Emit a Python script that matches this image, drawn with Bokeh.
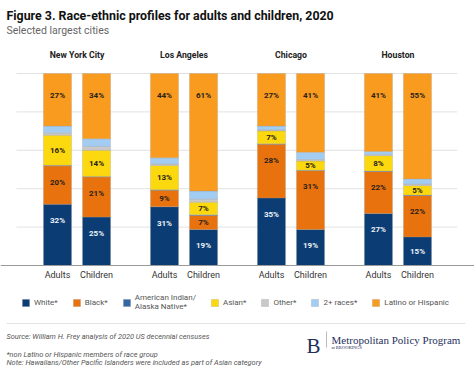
from bokeh.plotting import figure
from bokeh.models import (ColumnDataSource, FactorRange, Range1d, Legend, LegendItem,
                          Label, BoxAnnotation)
from bokeh.core.properties import value
from bokeh.embed import file_html
from bokeh.resources import INLINE

cities = ["New York City", "Los Angeles", "Chicago", "Houston"]
groups = ["Adults", "Children"]
series = ["White*", "Black*", "American Indian/\nAlaska Native*", "Asian*",
          "Other*", "2+ races*", "Latino or Hispanic"]
keys = ["white", "black", "amind", "asian", "other", "two", "latino"]
colors = ["#0B3C73", "#E8730E", "#3567A3", "#FCD90F", "#C9C9C9", "#A3CCF2", "#F99B1F"]
grid_ticks = [20, 40, 60, 80, 100]

# bars: NYC A, NYC C, LA A, LA C, CHI A, CHI C, HOU A, HOU C  (percent)
white = [31.9, 25.2, 30.6, 18.8, 35.2, 18.8, 27.1, 14.9]
black = [20.0, 20.9, 8.6, 7.3, 28.0, 30.6, 21.9, 21.6]
amind = [0.3, 0.3, 0.3, 0.3, 0.2, 0.2, 0.2, 0.2]
asian = [15.6, 13.6, 12.6, 6.6, 6.7, 4.8, 8.0, 4.9]
other = [1.3, 2.0, 0.8, 1.5, 0.5, 0.8, 0.6, 0.8]
two = [3.5, 4.0, 3.2, 4.3, 2.0, 3.8, 1.6, 2.7]
latino = [27.4, 34.0, 43.9, 61.2, 27.4, 41.0, 40.6, 54.9]

factors = [(c, g) for c in cities for g in groups]
data = dict(x=factors, white=white, black=black, amind=amind, asian=asian,
            other=other, two=two, latino=latino)
src = ColumnDataSource(data)

FONT = "Roboto"
W, H = 474, 374
GP = 0.74
span = len(factors) + GP * (len(cities) - 1)
p = figure(width=W, height=H, output_backend="svg", toolbar_location=None,
           x_range=FactorRange(*factors, group_padding=GP, factor_padding=0,
                               range_padding=0.96, range_padding_units="absolute"),
           y_range=Range1d(-56.77, 138.02), y_axis_location=None)
p.min_border = 0
p.min_border_left = p.min_border_right = p.min_border_top = p.min_border_bottom = 0
p.outline_line_color = None
p.background_fill_color = "white"
p.border_fill_color = "white"
p.grid.visible = False

ax = p.xaxis[0]
ax.fixed_location = 0
ax.axis_line_color = "#9A9A9A"
ax.major_tick_line_color = None
ax.minor_tick_line_color = None
ax.major_tick_in = 0
ax.major_tick_out = 0
ax.major_label_standoff = 4
ax.major_label_text_font = FONT
ax.major_label_text_font_size = "9px"
ax.major_label_text_color = "#333333"
ax.group_text_alpha = 0
ax.group_text_font_size = "1px"
ax.separator_line_alpha = 0

# horizontal gridlines (behind bars)
p.segment(x0=[-0.55] * len(grid_ticks), x1=[span + 0.52] * len(grid_ticks),
          y0=grid_ticks, y1=grid_ticks, line_color="#E2E2E2", line_width=1)

rs = p.vbar_stack(keys, x="x", width=0.72, color=colors, source=src,
                  line_color="#9A9A9A", line_alpha=0.45, line_width=0.6)

# value labels
lx, ly, lt, lc = [], [], [], []
for i, f in enumerate(factors):
    bottom = 0.0
    for k in keys:
        v = data[k][i]
        top = bottom + v
        if k in ("white", "black", "asian"):
            lx.append(f); ly.append(top - min(v / 2, 8.5))
            lt.append(f"{round(v)}%")
            lc.append("#EEF2F7" if k == "white" else "#2A2118")
        elif k == "latino":
            lx.append(f); ly.append(100 - 11.3)
            lt.append(f"{round(v)}%"); lc.append("#2A2118")
        bottom = top
p.text(x=lx, y=ly, text=lt, text_color=lc, text_font=value(FONT),
       text_font_style="bold", text_font_size="8px", text_align="center",
       text_baseline="middle")

# city headers
p.text(x=cities, y=[109.4] * 4, text=cities, text_font=value(FONT),
       text_font_style="bold", text_font_size="8.7px", text_color="#222222",
       text_align="center", text_baseline="alphabetic")

legend = Legend(items=[LegendItem(label=s, renderers=[r]) for s, r in zip(series, rs)],
                orientation="horizontal", location=(21, 63),
                glyph_width=9, glyph_height=9, label_standoff=4, spacing=14,
                padding=0, margin=0, border_line_color=None,
                background_fill_alpha=0, label_text_font=FONT,
                label_text_font_size="8px", label_text_color="#555555",
                label_text_line_height=1.45, label_height=9)
p.add_layout(legend, "center")

def lab(text, x, y, size, color, font=FONT, style="normal"):
    p.add_layout(Label(x=x, y=y, x_units="screen", y_units="screen", text=text,
                       text_font=font, text_font_size=size, text_color=color,
                       text_font_style=style, text_baseline="alphabetic"))

lab("Figure 3. Race-ethnic profiles for adults and children, 2020", 6, 359.5,
    "12.4px", "#111111", style="bold")
lab("Selected largest cities", 6, 344.5, "10.5px", "#666666")
lab("Source: William H. Frey analysis of 2020 US decennial censuses", 6, 38,
    "7.4px", "#555555", style="italic")
lab("*non Latino or Hispanic members of race group", 6, 20, "7.4px", "#555555", style="italic")
lab("Note: Hawaiians/Other Pacific Islanders were included as part of Asian category",
    6, 12.5, "7.4px", "#555555", style="italic")
lab("B", 306, 29, "21px", "#1F2F5C", font="Liberation Serif")
lab("Metropolitan Policy Program", 331, 35, "11px", "#1F2F5C", font="Liberation Serif")
lab("at BROOKINGS", 331, 27, "4.5px", "#1F2F5C", font="Liberation Serif")

p.add_layout(BoxAnnotation(left=6, right=465, top=51.5, bottom=50.5,
                           left_units="screen", right_units="screen",
                           top_units="screen", bottom_units="screen",
                           fill_color="#E4E4E4", fill_alpha=1, line_color=None))
p.add_layout(BoxAnnotation(left=325.5, right=326.5, top=43, bottom=27,
                           left_units="screen", right_units="screen",
                           top_units="screen", bottom_units="screen",
                           fill_color="#BBBBBB", fill_alpha=1, line_color=None))

open("out.html", "w").write(file_html(p, INLINE))
